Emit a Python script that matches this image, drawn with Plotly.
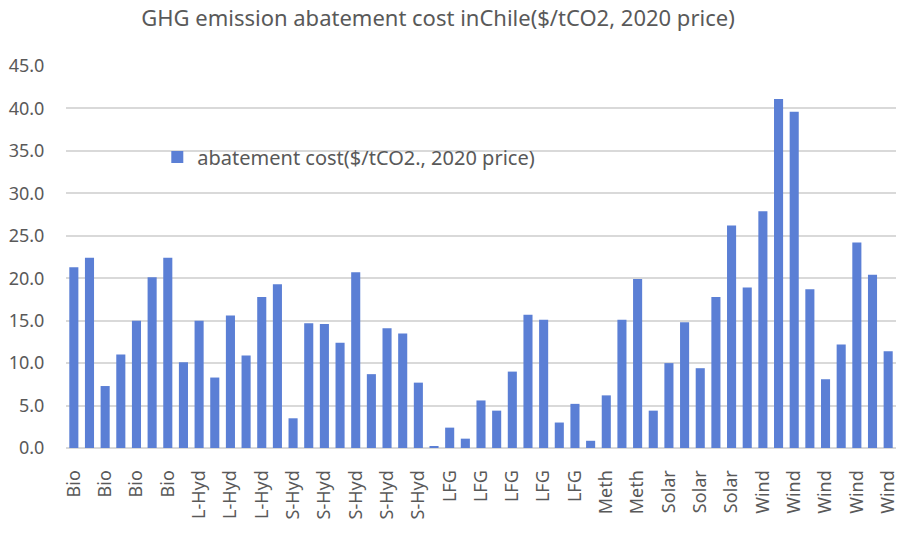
import plotly.graph_objects as go

categories = (["Bio"] * 8 + ["L-Hyd"] * 6 + ["S-Hyd"] * 10 + ["LFG"] * 10 +
              ["Meth"] * 4 + ["Solar"] * 6 + ["Wind"] * 9)
values = [21.3, 22.4, 7.3, 11.0, 15.0, 20.1, 22.4, 10.1,
          15.0, 8.3, 15.6, 10.9, 17.8, 19.3,
          3.5, 14.7, 14.6, 12.4, 20.7, 8.7, 14.1, 13.5, 7.7, 0.15,
          2.4, 1.1, 5.6, 4.4, 9.0, 15.7, 15.1, 3.0, 5.2, 0.85,
          6.2, 15.1, 19.9, 4.4,
          10.0, 14.8, 9.4, 17.8, 26.2, 18.9,
          27.9, 41.1, 39.6, 18.7, 8.1, 12.2, 24.2, 20.4, 11.4]
series_name = "abatement cost($/tCO2., 2020 price)"
title_text = "GHG emission abatement cost inChile($/tCO2, 2020 price)"
y_ticks = [0, 5, 10, 15, 20, 25, 30, 35, 40, 45]

idx = list(range(len(values)))
tickvals = idx[::2]
ticktext = [categories[i] for i in tickvals]

font_family = "Noto Sans, sans-serif"
gray = "#595959"

fig = go.Figure()
fig.add_trace(go.Bar(
    x=idx, y=values, name=series_name,
    marker=dict(color="#5B7FD5", line=dict(width=0)),
    showlegend=True,
))

fig.update_layout(
    width=903, height=534,
    margin=dict(l=66, r=7, t=66, b=86, autoexpand=False),
    paper_bgcolor="white", plot_bgcolor="white",
    bargap=0.42,
    title=dict(text=title_text, x=0.485, xanchor="center", y=0.966, yanchor="middle",
               font=dict(family=font_family, size=22, color=gray)),
    font=dict(family=font_family, color=gray),
    showlegend=True,
    legend=dict(x=0.11, y=0.762, xanchor="left", yanchor="middle",
                bgcolor="rgba(0,0,0,0)", font=dict(size=20, color=gray),
                itemwidth=30),
    xaxis=dict(
        range=[-0.5, len(values) - 0.5],
        tickmode="array", tickvals=tickvals, ticktext=ticktext,
        tickangle=-90, tickfont=dict(size=18, color=gray),
        ticks="outside", ticklen=14, tickcolor="rgba(0,0,0,0)",
        showgrid=False, zeroline=False, showline=False, automargin=False,
    ),
    yaxis=dict(
        range=[0, 45], tickmode="array", tickvals=y_ticks,
        ticktext=[f"{v:.1f}" for v in y_ticks],
        tickfont=dict(size=18, color=gray),
        ticks="outside", ticklen=17, tickcolor="rgba(0,0,0,0)",
        showgrid=True, gridcolor="#D9D9D9", gridwidth=1.5,
        zeroline=True, zerolinecolor="#D9D9D9", zerolinewidth=1.5,
        showline=False, automargin=False,
    ),
)

fig.write_html("out.html", config={"displayModeBar": False},
               post_script="document.body.style.margin='0';")
